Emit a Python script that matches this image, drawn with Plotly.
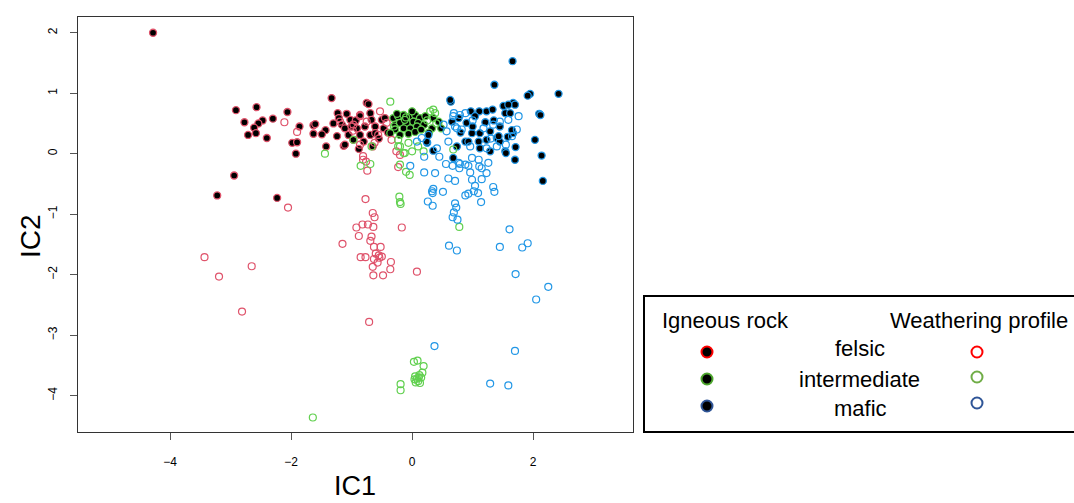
import plotly.graph_objects as go

W, H = 1074, 503

# ---- data (IC1, IC2) ----
felsic_ig_x = [-4.28,-3.22,-2.94,-2.23,-2.91,-2.57,-2.77,-2.47,-2.54,-2.61,-2.30,-2.06,-2.71,-2.58,-2.40,-1.86,-1.98,-1.90,-1.92,-1.63,-1.60,-1.43,-1.63,-1.49,-1.42,-1.33,-1.13,-0.75,-0.72,-1.23,-1.21,-1.08,-1.02,-0.86,-0.69,-0.67,-0.50,-1.16,-1.11,-1.00,-0.91,-0.78,-0.61,-0.47,-1.24,-1.05,-0.86,-0.69,-0.61,-1.11,-0.97,-0.80,-0.45,-0.93,-0.55,-1.30,-0.40,-0.88,-0.65]
felsic_ig_y = [2.00,-0.69,-0.36,-0.73,0.72,0.77,0.52,0.55,0.50,0.43,0.58,0.69,0.31,0.34,0.26,0.45,0.18,0.19,0.00,0.47,0.49,0.39,0.33,0.32,0.12,0.92,0.13,0.84,0.82,0.67,0.59,0.66,0.56,0.64,0.67,0.56,0.56,0.48,0.42,0.45,0.42,0.45,0.45,0.42,0.29,0.31,0.31,0.31,0.34,0.15,0.23,0.20,0.59,0.55,0.25,0.50,0.35,0.08,0.12]

inter_ig_x = [-0.31,-0.23,-0.14,-0.03,0.05,0.13,-0.28,-0.20,-0.09,0.02,0.10,-0.28,-0.14,-0.03,0.08,-0.36,-0.20,0.35,0.44,0.33,0.20,-0.06,0.05,0.15,-0.12,0.22,0.48,0.00,-0.25,0.28]
inter_ig_y = [0.59,0.62,0.64,0.62,0.64,0.59,0.48,0.51,0.51,0.53,0.51,0.40,0.42,0.42,0.45,0.34,0.31,0.59,0.53,0.42,0.48,0.33,0.36,0.40,0.56,0.62,0.42,0.70,0.66,0.35]

mafic_ig_x = [1.36,1.95,1.91,0.64,0.97,1.11,1.23,1.33,1.51,1.67,1.70,1.54,1.62,2.10,0.90,1.04,1.21,1.45,0.99,1.12,1.29,1.67,0.88,0.93,1.10,1.23,1.40,1.45,0.74,1.12,1.29,1.54,2.03,1.70,2.14,0.68,1.66,2.42,2.16,2.12,0.35,0.25,1.71,1.55,1.59,1.65,1.58,1.43,0.24,0.27,0.66,0.77,0.63,1.00,0.80,1.35]
mafic_ig_y = [1.14,0.99,0.96,0.86,0.70,0.70,0.70,0.73,0.79,0.84,0.81,0.67,0.67,0.66,0.51,0.62,0.52,0.45,0.34,0.34,0.37,0.34,0.20,0.20,0.20,0.23,0.26,0.20,0.12,0.09,0.04,0.04,0.23,-0.10,-0.03,-0.07,1.53,0.99,-0.45,0.64,0.05,0.18,0.11,0.01,0.81,0.39,0.28,0.29,0.20,0.31,0.53,0.59,0.89,0.45,0.35,0.55]

felsic_wp_x = [-2.05,-3.43,-3.19,-2.65,-2.81,-0.71,-1.15,-0.77,-0.65,-0.62,-0.92,-0.82,-0.73,-0.64,-0.88,-0.67,-0.69,-0.63,-0.52,-0.85,-0.77,-0.63,-0.55,-0.50,-0.57,-0.65,-0.35,-0.36,-0.64,-0.48,-0.17,0.08,-0.74,-0.23,-2.11,-1.90,-0.86,-0.53,-0.75,-0.56,-0.86,-0.81,-0.34,-0.20,-1.19,-0.97,-0.81,-0.76,-0.26,-0.42,-0.54,-0.60,-0.98,-0.62]
felsic_wp_y = [-0.89,-1.71,-2.03,-1.86,-2.61,-2.78,-1.49,-0.75,-0.98,-1.05,-1.22,-1.17,-1.17,-1.21,-1.36,-1.37,-1.44,-1.54,-1.54,-1.71,-1.71,-1.74,-1.68,-1.70,-1.80,-1.87,-1.79,-1.91,-2.01,-2.01,-1.22,-1.95,-0.28,-0.22,0.52,0.36,0.62,0.70,0.53,0.31,0.15,-0.04,0.23,-0.02,0.53,0.48,-0.10,-0.13,0.04,0.51,-1.72,-1.65,0.38,0.18]

inter_wp_x = [-1.64,0.03,0.09,0.19,-0.19,-0.19,0.05,0.08,0.12,0.15,0.10,0.06,0.13,0.17,0.04,0.11,-0.85,-0.69,-0.21,-0.20,-0.19,-0.20,-0.10,-0.04,0.78,-0.36,-1.44,-0.20,-0.12,0.00,0.19,-0.23,0.30,0.38,0.35,0.10,-0.06,-0.97,-0.67,-0.23,-0.14,0.68,-0.30,0.25,-0.10,0.40]
inter_wp_y = [-4.36,-3.44,-3.42,-3.51,-3.81,-3.91,-3.68,-3.72,-3.66,-3.70,-3.76,-3.78,-3.79,-3.62,-3.73,-3.70,-0.20,-0.17,-0.71,-0.80,-0.83,-0.18,-0.30,-0.35,-1.21,0.86,0.00,0.12,0.01,0.04,0.04,0.23,0.70,0.67,0.73,0.12,0.18,0.23,0.12,0.12,0.01,0.07,0.45,0.55,0.60,0.50]

mafic_wp_x = [-0.03,0.20,0.38,0.56,0.67,0.79,0.78,0.93,0.96,0.99,1.10,1.11,1.15,1.23,1.26,0.60,0.71,0.99,1.15,1.04,1.09,1.02,0.93,0.88,1.14,1.34,1.36,0.51,0.35,0.33,0.34,0.26,0.34,0.71,0.73,0.69,0.67,0.75,1.61,0.61,0.74,1.45,1.82,1.91,1.71,2.05,2.25,1.70,1.29,1.59,0.37,0.69,0.79,0.88,1.76,1.59,1.45,1.34,1.18,0.82,0.71,0.96,1.23,1.40,0.77,0.88,1.73,1.65,0.68,0.74,0.57,0.52,0.16,0.08,0.41,0.60,1.00,1.30,1.55,0.45,0.20]
mafic_wp_y = [-0.20,-0.31,-0.32,-0.17,-0.20,-0.17,-0.24,-0.20,-0.31,-0.07,-0.10,-0.21,-0.24,-0.32,-0.15,-0.41,-0.45,-0.43,-0.42,-0.53,-0.65,-0.62,-0.66,-0.69,-0.80,-0.55,-0.63,-0.63,-0.58,-0.62,-0.65,-0.79,-0.86,-0.82,-0.89,-0.97,-1.05,-1.09,-1.25,-1.52,-1.60,-1.54,-1.55,-1.48,-1.99,-2.41,-2.20,-3.26,-3.80,-3.83,-3.18,0.67,0.64,0.67,0.62,0.56,0.53,0.48,0.42,0.40,0.45,0.12,0.09,0.12,-0.15,-0.18,0.40,0.29,0.62,0.42,0.37,0.48,0.26,0.20,0.09,0.20,0.55,0.25,0.15,-0.05,-0.05]

groups = ["felsic", "intermediate", "mafic"]
point_colors = {"felsic": "#DF536B", "intermediate": "#61D04F", "mafic": "#2297E6"}
legend_ig_colors = ["#FF0000", "#4EA72E", "#2F5597"]
legend_wp_colors = ["#FF0000", "#70AD47", "#2F5597"]

FONT = "Liberation Sans, Arial, sans-serif"

fig = go.Figure()

# plot area in pixels
L, R, T, B = 78, 633, 17, 432

ig = {"felsic": (felsic_ig_x, felsic_ig_y), "intermediate": (inter_ig_x, inter_ig_y), "mafic": (mafic_ig_x, mafic_ig_y)}
wp = {"felsic": (felsic_wp_x, felsic_wp_y), "intermediate": (inter_wp_x, inter_wp_y), "mafic": (mafic_wp_x, mafic_wp_y)}

for g in groups:
    x, y = ig[g]
    fig.add_trace(go.Scatter(x=x, y=y, mode="markers", showlegend=False,
                             marker=dict(size=7, color="black",
                                         line=dict(color=point_colors[g], width=1.3)),
                             xaxis="x", yaxis="y"))
for g in groups:
    x, y = wp[g]
    fig.add_trace(go.Scatter(x=x, y=y, mode="markers", showlegend=False,
                             marker=dict(size=7, color="rgba(0,0,0,0)",
                                         line=dict(color=point_colors[g], width=1.2)),
                             xaxis="x", yaxis="y"))

# legend markers (second axes, pixel-like coordinates)
leg_rows = [352, 379, 406]
leg_rows_open = [352, 377, 403]
fig.add_trace(go.Scatter(x=[707]*3, y=leg_rows, mode="markers", showlegend=False,
                         marker=dict(size=11, color="black",
                                     line=dict(color=legend_ig_colors, width=2)),
                         xaxis="x2", yaxis="y2"))
fig.add_trace(go.Scatter(x=[977]*3, y=leg_rows_open, mode="markers", showlegend=False,
                         marker=dict(size=11, color="rgba(0,0,0,0)",
                                     line=dict(color=legend_wp_colors, width=2)),
                         xaxis="x2", yaxis="y2"))

axis_common = dict(showgrid=False, zeroline=False, showline=True, linecolor="#333",
                   linewidth=1, mirror=True, ticks="outside", ticklen=7,
                   tickcolor="#555", tickwidth=1,
                   tickfont=dict(family=FONT, size=12, color="black"))

fig.update_layout(
    width=W, height=H, margin=dict(l=0, r=0, t=0, b=0),
    paper_bgcolor="white", plot_bgcolor="white",
    font=dict(family=FONT),
    xaxis=dict(domain=[L/W, R/W], range=[-5.52, 3.65], tickvals=[-4, -2, 0, 2],
               ticklabelstandoff=12, anchor="y", **axis_common),
    yaxis=dict(domain=[(H-B)/H, (H-T)/H], range=[-4.6, 2.26],
               tickvals=[-4, -3, -2, -1, 0, 1, 2], tickangle=-90,
               ticklabelstandoff=8, anchor="x", **axis_common),
    xaxis2=dict(domain=[643/W, 1], range=[643, 1074], visible=False, anchor="y2"),
    yaxis2=dict(domain=[(H-432)/H, (H-295)/H], range=[432, 295], visible=False, anchor="x2"),
)

def px(xp):
    return xp / W

def py(yp):
    return 1 - yp / H

# legend box
fig.add_shape(type="rect", xref="paper", yref="paper",
              x0=px(644), x1=px(1085), y0=py(432), y1=py(296),
              line=dict(color="black", width=2), fillcolor="rgba(0,0,0,0)")

ann = [
    dict(text="Igneous rock", x=px(660), y=py(320), xanchor="left"),
    dict(text="Weathering profile", x=px(888), y=py(320), xanchor="left"),
    dict(text="felsic", x=px(860), y=py(348), xanchor="center"),
    dict(text="intermediate", x=px(859), y=py(379), xanchor="center"),
    dict(text="mafic", x=px(860), y=py(408), xanchor="center"),
]
for a in ann:
    fig.add_annotation(xref="paper", yref="paper", yanchor="middle", showarrow=False,
                       font=dict(family=FONT, size=22, color="black"), **a)

fig.add_annotation(text="IC1", xref="paper", yref="paper", x=px(355), y=py(486),
                   xanchor="center", yanchor="middle", showarrow=False,
                   font=dict(family=FONT, size=27, color="black"))
fig.add_annotation(text="IC2", xref="paper", yref="paper", x=px(30), y=py(236),
                   xanchor="center", yanchor="middle", showarrow=False, textangle=-90,
                   font=dict(family=FONT, size=28, color="black"))

fig.write_html("out.html")
